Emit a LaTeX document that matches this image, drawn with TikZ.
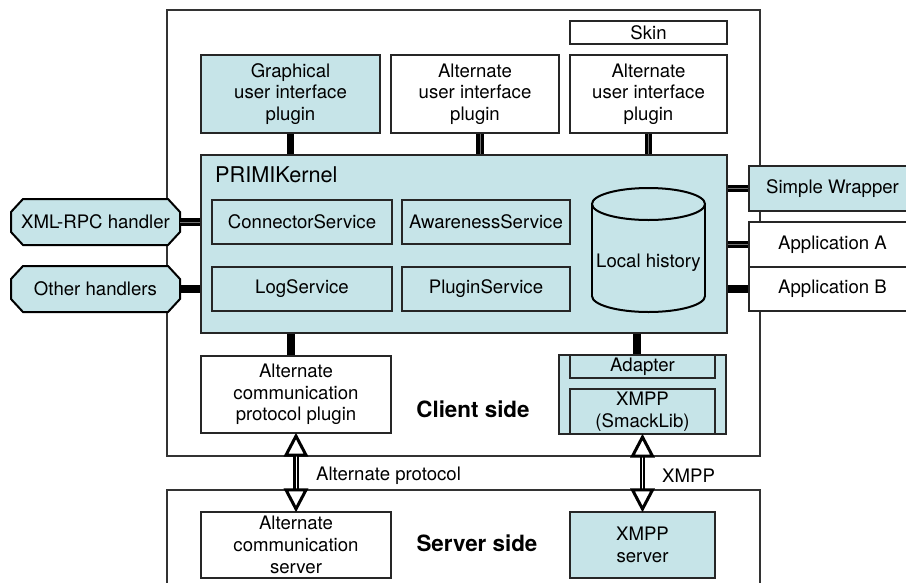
\documentclass[tikz,border=0pt]{standalone}
\usepackage{fontspec}
\setmainfont{TeX Gyre Heros}
\definecolor{kblue}{RGB}{198,228,232}
\begin{document}
\begin{tikzpicture}[x=1pt,y=-1pt,
  txt/.style={font=\fontsize{18.6}{21.7}\selectfont},
  box/.style={draw=black!85, line width=1.1pt, align=center, inner sep=0pt, txt},
  bbox/.style={box, fill=kblue},
  wbox/.style={box, fill=white},
  hnode/.style={align=center, inner sep=0pt, txt, minimum width=169, minimum height=46},
  hshape/.style={draw=black, line width=2pt, fill=kblue, line join=miter},
  frame/.style={draw=black!80, line width=1.2pt, fill=white},
  sconn/.style={draw=black, line width=7.5pt},
  gline/.style={draw=black!55, line width=0.7pt},
  lbl/.style={txt, inner sep=0pt},
  side/.style={font=\bfseries\fontsize{22.4}{26}\selectfont, inner sep=0pt},
  shaft/.style={draw=black, line width=5.5pt},
  core/.style={draw=white, line width=1pt},
  tiphead/.style={draw=black, line width=3pt, fill=white, line join=miter, miter limit=3}
]
\useasboundingbox (0,0) rectangle (906,582);
\clip (0,0) rectangle (906,582);
\fill[white] (0,0) rectangle (906,582);

% frames
\path[frame] (167,10) rectangle (760,456);
\path[frame] (167,490) rectangle (760,620);

% top plugins
\node[wbox, minimum width=157, minimum height=23] (skin) at (648.5,32.5) {Skin};
\node[bbox, minimum width=179, minimum height=78] (gui) at (290.5,94) {Graphical\\user interface\\plugin};
\node[wbox, minimum width=168, minimum height=78] (alt1) at (475,94) {Alternate\\user interface\\plugin};
\node[wbox, minimum width=157, minimum height=78] (alt2) at (648.5,94) {Alternate\\user interface\\plugin};

% kernel
\node[bbox, minimum width=526, minimum height=178] (kernel) at (464,244) {};
\node[anchor=west, inner sep=0pt, font=\fontsize{21.7}{24}\selectfont] (ktitle) at (215,175) {PRIMIKernel};
\node[bbox, minimum width=180, minimum height=44] (conns) at (302,222) {ConnectorService};
\node[bbox, minimum width=168, minimum height=44] (aware) at (486,222) {AwarenessService};
\node[bbox, minimum width=180, minimum height=44] (logs) at (302,289) {LogService};
\node[bbox, minimum width=168, minimum height=44] (plugs) at (486,289) {PluginService};

% cylinder
\fill[kblue] (592,204) rectangle (705,296);
\fill[kblue] (648.5,296) ellipse [x radius=56.5, y radius=16];
\draw[black, line width=2pt] (648.5,204) ellipse [x radius=56.5, y radius=16];
\draw[black, line width=2pt] (592,204) -- (592,296);
\draw[black, line width=2pt] (705,204) -- (705,296);
\begin{scope}
  \clip (580,296) rectangle (720,320);
  \draw[black, line width=2pt] (648.5,296) ellipse [x radius=56.5, y radius=16];
\end{scope}
\node[lbl] (hist) at (648.5,263) {Local history};

% handlers
\path[hshape] (23,199) -- (168,199) -- (180,212) -- (180,232) -- (168,245) -- (23,245) -- (11,232) -- (11,212) -- cycle;
\node[hnode] (xml) at (95.5,222) {XML-RPC handler};
\path[hshape] (23,266) -- (168,266) -- (180,279) -- (180,299) -- (168,312) -- (23,312) -- (11,299) -- (11,279) -- cycle;
\node[hnode] (other) at (95.5,289) {Other handlers};

% applications
\node[bbox, minimum width=167, minimum height=45] (wrap) at (832.5,188.5) {Simple Wrapper};
\node[wbox, minimum width=167, minimum height=45] (appa) at (832.5,244.5) {Application A};
\node[wbox, minimum width=167, minimum height=44] (appb) at (832.5,289) {Application B};

% bottom client
\node[wbox, minimum width=190, minimum height=77] (altcomm) at (296,394.5) {Alternate\\communication\\protocol plugin};
\node[bbox, minimum width=167, minimum height=79] (xmppc) at (642.5,394.5) {};
\node[bbox, minimum width=145, minimum height=23] (adapter) at (642.5,366.5) {Adapter};
\node[bbox, minimum width=145, minimum height=45] (smack) at (642.5,411.5) {XMPP\\(SmackLib)};
\node[side] (client) at (473,409) {Client side};

% server
\node[wbox, minimum width=190, minimum height=66] (altserver) at (296,545) {Alternate\\communication\\server};
\node[bbox, minimum width=145, minimum height=66] (xserver) at (642.5,545) {XMPP\\server};
\node[side] (server) at (477,543) {Server side};

% connectors
\draw[sconn] (gui.south) -- (gui.south |- kernel.north);
\draw[sconn] ([xshift=5pt]alt1.south) -- ([xshift=5pt]alt1.south |- kernel.north);
\draw[gline] ([xshift=5pt]alt1.south) -- ([xshift=5pt]alt1.south |- kernel.north);
\draw[sconn] (alt2.south) -- (alt2.south |- kernel.north);
\draw[gline] (alt2.south) -- (alt2.south |- kernel.north);
\draw[sconn] (xml.east) -- (xml.east -| kernel.west);
\draw[gline] (xml.east) -- (xml.east -| kernel.west);
\draw[sconn] (other.east) -- (other.east -| kernel.west);
\draw[sconn] (wrap.west -| kernel.east) -- (wrap.west);
\draw[gline] (wrap.west -| kernel.east) -- (wrap.west);
\draw[sconn] (appa.west -| kernel.east) -- (appa.west);
\draw[gline] (appa.west -| kernel.east) -- (appa.west);
\draw[sconn] (appb.west -| kernel.east) -- (appb.west);
\draw[sconn] ([xshift=-5pt]altcomm.north |- kernel.south) -- ([xshift=-5pt]altcomm.north);
\draw[sconn] ([xshift=-5.5pt]adapter.north |- kernel.south) -- ([xshift=-5.5pt]adapter.north);

% protocol arrows
\draw[shaft] ([yshift=-19pt]altcomm.south) -- ([yshift=19pt]altserver.north);
\draw[core] ([yshift=-21pt]altcomm.south) -- ([yshift=21pt]altserver.north);
\path[tiphead] ([yshift=-2.5pt]altcomm.south) -- ++(-10,19) -- ++(20,0) -- cycle;
\path[tiphead] ([yshift=2.5pt]altserver.north) -- ++(-10,-19) -- ++(20,0) -- cycle;
\draw[shaft] ([yshift=-19pt]smack.south) -- ([yshift=19pt]xserver.north);
\draw[core] ([yshift=-21pt]smack.south) -- ([yshift=21pt]xserver.north);
\path[tiphead] ([yshift=-2.5pt]smack.south) -- ++(-10,19) -- ++(20,0) -- cycle;
\path[tiphead] ([yshift=2.5pt]xserver.north) -- ++(-10,-19) -- ++(20,0) -- cycle;
\node[lbl, anchor=west] (altproto) at (316,476) {Alternate protocol};
\node[lbl, anchor=west] (xmppl) at (662,476) {XMPP};
\end{tikzpicture}
\end{document}
